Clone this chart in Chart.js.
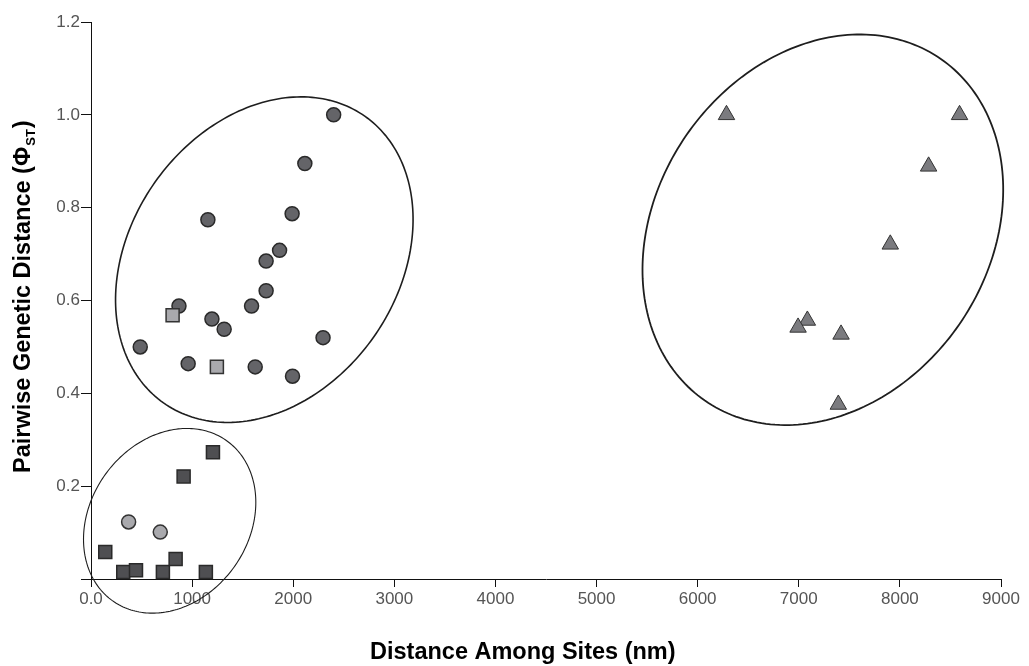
<!DOCTYPE html>
<html>
<head>
<meta charset="utf-8">
<script src="https://cdn.jsdelivr.net/npm/chart.js@4/dist/chart.umd.min.js"></script>
<style>
  html, body { margin: 0; padding: 0; background: #ffffff; }
  canvas { display: block; }
</style>
</head>
<body>
<canvas id="c" width="1029" height="666"></canvas>
<script>
// ---- Data ----
const darkCircleX = [2400, 2115, 1156, 1989, 1865, 1732, 1732, 1588, 870, 1196, 1317, 2295, 487, 961, 1624, 1993];
const darkCircleY = [1.0, 0.895, 0.774, 0.787, 0.708, 0.685, 0.621, 0.588, 0.588, 0.560, 0.538, 0.520, 0.500, 0.464, 0.457, 0.437];

const lightSquareX = [807, 1245];
const lightSquareY = [0.568, 0.457];

const darkSquareX = [141, 319, 445, 711, 837, 1136, 916, 1206];
const darkSquareY = [0.058, 0.015, 0.019, 0.015, 0.043, 0.015, 0.221, 0.273];

const lightCircleX = [372, 685];
const lightCircleY = [0.123, 0.101];

const triangleX = [6285, 8590, 8284, 7905, 7085, 6993, 7418, 7391];
const triangleY = [1.0, 1.0, 0.889, 0.721, 0.557, 0.542, 0.527, 0.376];

const xTickValues = [0, 1000, 2000, 3000, 4000, 5000, 6000, 7000, 8000, 9000];
const yTickValues = [0, 0.2, 0.4, 0.6, 0.8, 1.0, 1.2];

const xTitle = 'Distance Among Sites (nm)';
const yTitleMain = 'Pairwise Genetic Distance (\u03A6';
const yTitleSub = 'ST';
const yTitleEnd = ')';

// Cluster outlines, in data units: centre plus two conjugate semi-axis vectors
const clusterEllipses = [
  { cx: 1714, cy: 0.688, ux: 997, uy: 0.3086, vx: -1082, vy: 0.1666, width: 1.6 },
  { cx: 778, cy: 0.1254, ux: 567, uy: 0.172, vx: -636, vy: 0.100, width: 1.1 },
  { cx: 7238, cy: 0.7524, ux: 1167, uy: 0.368, vx: -1349, vy: 0.204, width: 1.8 }
];

const pts = (xs, ys) => xs.map((x, i) => ({ x: x, y: ys[i] }));

const TITLE_FONT = 'bold 23.5px "Liberation Sans", Arial, sans-serif';
const SUB_FONT = 'bold 13px "Liberation Sans", Arial, sans-serif';

const ellipsePlugin = {
  id: 'ellipses',
  beforeDatasetsDraw(chart) {
    const ctx = chart.ctx, xs = chart.scales.x, ys = chart.scales.y;
    ctx.save();
    ctx.strokeStyle = '#1e1e1e';
    clusterEllipses.forEach(e => {
      ctx.lineWidth = e.width;
      ctx.beginPath();
      const n = 240;
      for (let i = 0; i <= n; i++) {
        const t = (i / n) * Math.PI * 2;
        const vx = e.cx + Math.cos(t) * e.ux + Math.sin(t) * e.vx;
        const vy = e.cy + Math.cos(t) * e.uy + Math.sin(t) * e.vy;
        const px = xs.getPixelForValue(vx), py = ys.getPixelForValue(vy);
        if (i === 0) ctx.moveTo(px, py); else ctx.lineTo(px, py);
      }
      ctx.closePath();
      ctx.stroke();
    });
    ctx.restore();
  },
  afterDraw(chart) {
    const ctx = chart.ctx;
    ctx.save();
    ctx.fillStyle = '#000';
    // Y title with subscript
    ctx.translate(30, 473);
    ctx.rotate(-Math.PI / 2);
    ctx.textAlign = 'left';
    ctx.textBaseline = 'alphabetic';
    ctx.font = TITLE_FONT;
    ctx.fillText(yTitleMain, 0, 0);
    let w = ctx.measureText(yTitleMain).width;
    ctx.font = SUB_FONT;
    ctx.fillText(yTitleSub, w + 1, 5);
    w += ctx.measureText(yTitleSub).width + 2;
    ctx.font = TITLE_FONT;
    ctx.fillText(yTitleEnd, w, 0);
    ctx.restore();

    ctx.save();
    ctx.fillStyle = '#000';
    ctx.font = TITLE_FONT;
    ctx.textAlign = 'left';
    ctx.textBaseline = 'middle';
    ctx.fillText(xTitle, 370, 653);
    ctx.restore();
  }
};

const tickFont = { family: '"Liberation Sans", Arial, sans-serif', size: 17 };

new Chart(document.getElementById('c'), {
  type: 'scatter',
  data: {
    datasets: [
      { label: 'Light squares', data: pts(lightSquareX, lightSquareY), pointStyle: 'rect', pointRadius: 9.2,
        backgroundColor: '#a9a9ad', borderColor: '#333333', borderWidth: 1.5, clip: false },
      { label: 'Dark circles', data: pts(darkCircleX, darkCircleY), pointStyle: 'circle', pointRadius: 7,
        backgroundColor: '#646468', borderColor: '#2a2a2a', borderWidth: 1.5, clip: false },
      { label: 'Light circles', data: pts(lightCircleX, lightCircleY), pointStyle: 'circle', pointRadius: 7,
        backgroundColor: '#a9a9ad', borderColor: '#333333', borderWidth: 1.5, clip: false },
      { label: 'Dark squares', data: pts(darkSquareX, darkSquareY), pointStyle: 'rect', pointRadius: 9.2,
        backgroundColor: '#4f4f52', borderColor: '#2a2a2a', borderWidth: 1.5, clip: false },
      { label: 'Triangles', data: pts(triangleX, triangleY), pointStyle: 'triangle', pointRadius: 9.5,
        backgroundColor: '#7b7b7f', borderColor: '#333333', borderWidth: 1, clip: false }
    ]
  },
  options: {
    responsive: false,
    animation: false,
    devicePixelRatio: 1,
    layout: { padding: { left: 0, right: 28, top: 22, bottom: 0 } },
    plugins: { legend: { display: false }, tooltip: { enabled: false } },
    scales: {
      x: {
        type: 'linear', min: xTickValues[0], max: xTickValues[xTickValues.length - 1],
        afterBuildTicks: s => { s.ticks = xTickValues.map(v => ({ value: v })); },
        ticks: { callback: v => v === 0 ? '0.0' : String(v), font: tickFont, color: '#555', padding: 2, maxRotation: 0, autoSkip: false },
        grid: { drawOnChartArea: false, drawTicks: true, tickLength: 8, color: '#111', lineWidth: 1 },
        border: { display: true, color: '#111', width: 1 },
        afterFit: s => { s.height = 87; }
      },
      y: {
        type: 'linear', min: yTickValues[0], max: yTickValues[yTickValues.length - 1],
        afterBuildTicks: s => { s.ticks = yTickValues.map(v => ({ value: v })); },
        ticks: { callback: v => v === 0 ? '' : Number(v).toFixed(1), font: tickFont, color: '#555', padding: 1, autoSkip: false },
        grid: { drawOnChartArea: false, drawTicks: true, tickLength: 10, color: '#111', lineWidth: 1 },
        border: { display: true, color: '#111', width: 1 },
        afterFit: s => { s.width = 91; }
      }
    }
  },
  plugins: [ellipsePlugin]
});
</script>
</body>
</html>
